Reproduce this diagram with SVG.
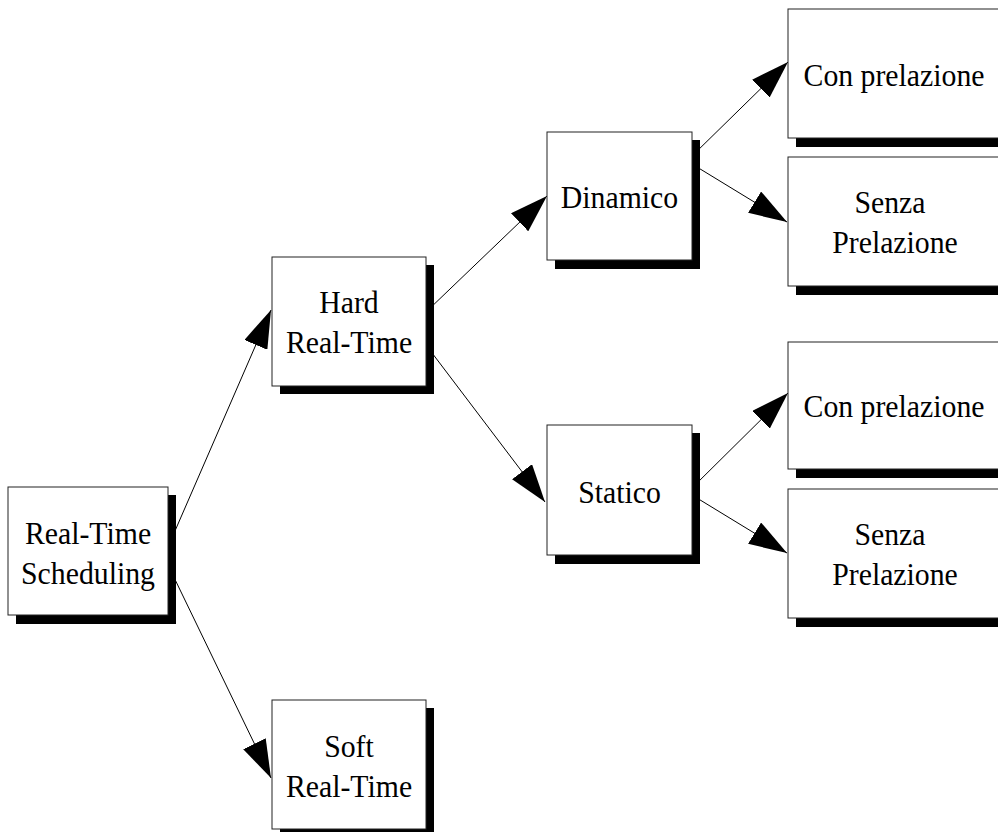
<svg xmlns="http://www.w3.org/2000/svg" width="998" height="832" viewBox="0 0 998 832">
  <style>
    .box { fill: #ffffff; stroke: #222222; stroke-width: 1; }
    .shadow { fill: #000000; stroke: none; }
    .label { font-family: "Liberation Serif", "Times New Roman", serif; font-size: 32px; fill: #000000; text-anchor: middle; }
    .link { stroke: #000000; stroke-width: 1; fill: none; marker-end: url(#head); }
  </style>
  <defs>
    <marker id="head" viewBox="0 0 38 25" refX="38" refY="12.5" markerWidth="38" markerHeight="25" markerUnits="userSpaceOnUse" orient="auto">
      <path d="M0,0 L38,12.5 L0,25 z" fill="#000000"/>
    </marker>
  </defs>
  <rect width="998" height="832" fill="#ffffff"/>

  <!-- connectors -->
  <g id="connectors">
    <line class="link" x1="168" y1="547" x2="271" y2="310"/>
    <line class="link" x1="168" y1="565" x2="271" y2="778"/>
    <line class="link" x1="426" y1="312" x2="547" y2="196"/>
    <line class="link" x1="426" y1="345" x2="545" y2="502"/>
    <line class="link" x1="692" y1="156" x2="788" y2="62"/>
    <line class="link" x1="692" y1="164" x2="787" y2="222"/>
    <line class="link" x1="692" y1="488" x2="788" y2="393"/>
    <line class="link" x1="692" y1="495" x2="787" y2="553"/>
  </g>

  <!-- nodes: shadow, box, then labels (slightly condensed serif) -->
  <g id="real-time-scheduling">
    <rect class="shadow" x="16" y="495" width="160" height="129"/>
    <rect class="box" x="8" y="487" width="160" height="128"/>
    <text class="label" transform="translate(88 544) scale(0.93 1)">Real-Time</text>
    <text class="label" transform="translate(88 584) scale(0.93 1)">Scheduling</text>
  </g>

  <g id="hard-real-time">
    <rect class="shadow" x="280" y="265" width="154" height="129"/>
    <rect class="box" x="272" y="257" width="154" height="129"/>
    <text class="label" transform="translate(349 313) scale(0.93 1)">Hard</text>
    <text class="label" transform="translate(349 353) scale(0.93 1)">Real-Time</text>
  </g>

  <g id="soft-real-time">
    <rect class="shadow" x="280" y="708" width="154" height="129"/>
    <rect class="box" x="272" y="700" width="154" height="129"/>
    <text class="label" transform="translate(349 757) scale(0.93 1)">Soft</text>
    <text class="label" transform="translate(349 797) scale(0.93 1)">Real-Time</text>
  </g>

  <g id="dinamico">
    <rect class="shadow" x="555" y="140" width="145" height="129"/>
    <rect class="box" x="547" y="132" width="145" height="128"/>
    <text class="label" transform="translate(619.5 208) scale(0.93 1)">Dinamico</text>
  </g>

  <g id="statico">
    <rect class="shadow" x="555" y="433" width="145" height="131"/>
    <rect class="box" x="547" y="425" width="145" height="130"/>
    <text class="label" transform="translate(619.5 503) scale(0.93 1)">Statico</text>
  </g>

  <g id="dinamico-con-prelazione">
    <rect class="shadow" x="796" y="17" width="212" height="130"/>
    <rect class="box" x="788" y="9" width="212" height="129"/>
    <text class="label" transform="translate(894 86) scale(0.93 1)">Con prelazione</text>
  </g>

  <g id="dinamico-senza-prelazione">
    <rect class="shadow" x="796" y="165" width="212" height="130"/>
    <rect class="box" x="788" y="157" width="212" height="129"/>
    <text class="label" transform="translate(890 213) scale(0.93 1)">Senza</text>
    <text class="label" transform="translate(895 253) scale(0.93 1)">Prelazione</text>
  </g>

  <g id="statico-con-prelazione">
    <rect class="shadow" x="796" y="350" width="212" height="128"/>
    <rect class="box" x="788" y="342" width="212" height="127"/>
    <text class="label" transform="translate(894 417) scale(0.93 1)">Con prelazione</text>
  </g>

  <g id="statico-senza-prelazione">
    <rect class="shadow" x="796" y="497" width="212" height="130"/>
    <rect class="box" x="788" y="489" width="212" height="129"/>
    <text class="label" transform="translate(890 545) scale(0.93 1)">Senza</text>
    <text class="label" transform="translate(895 585) scale(0.93 1)">Prelazione</text>
  </g>
</svg>
